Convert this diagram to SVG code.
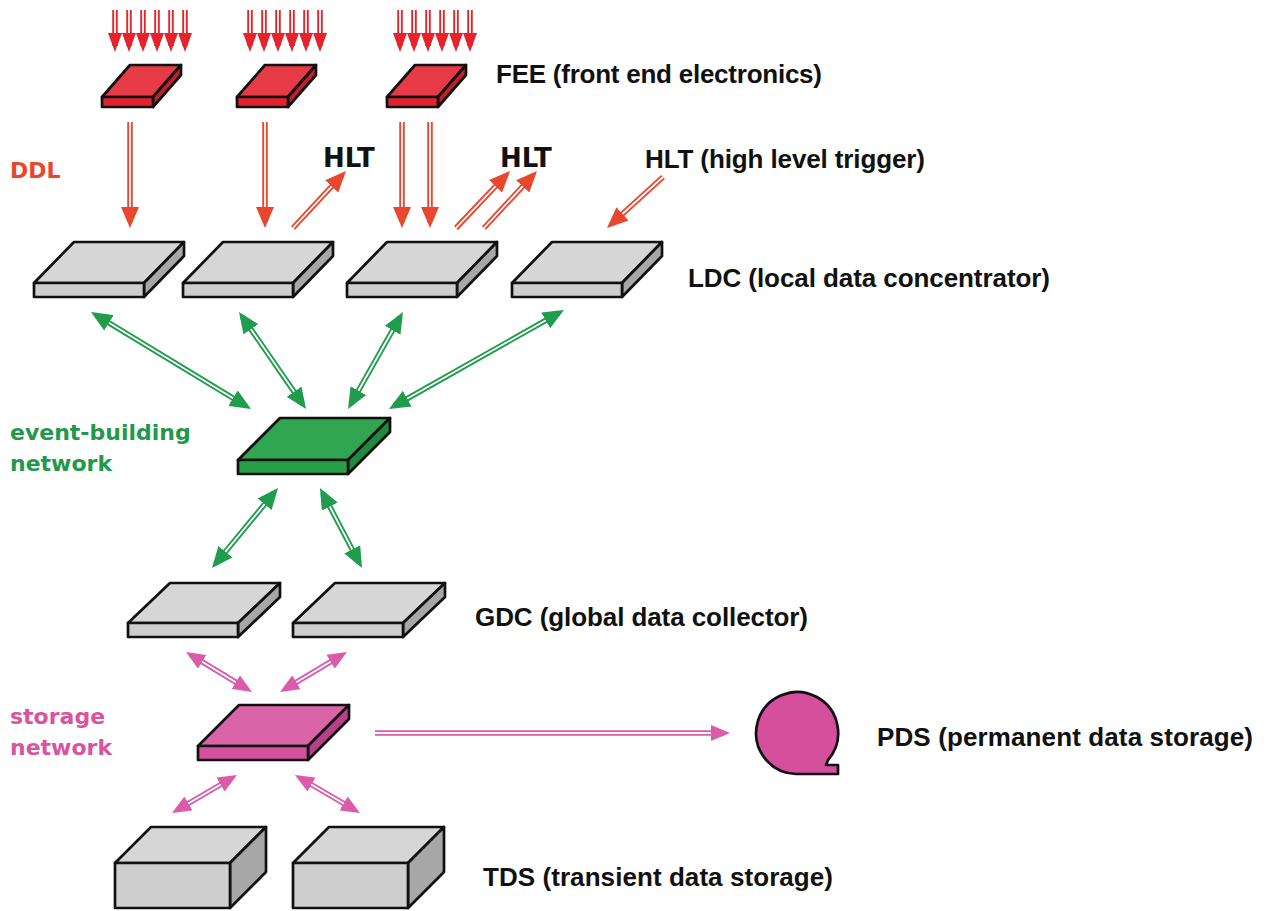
<svg xmlns="http://www.w3.org/2000/svg" width="1277" height="911" viewBox="0 0 1277 911">
<style>
.lbl{font-family:"Liberation Sans",Arial,sans-serif;font-weight:bold;font-size:26px;fill:#111}
.hlt{font-family:"DejaVu Sans",Verdana,sans-serif;font-weight:bold;font-size:26px;fill:#111}
.side-lbl{font-family:"DejaVu Sans",Verdana,sans-serif;font-weight:bold;font-size:22px}
.box polygon,.box rect{stroke:#111;stroke-width:2.7;stroke-linejoin:round}
.gray .t{fill:#d6d6d6}.gray .f{fill:#cecece}.gray .s{fill:#a7a7a7}
.red .t{fill:#e63a46}.red .f{fill:#e2222d}.red .s{fill:#c41f2b}
.green .t{fill:#2fa64f}.green .f{fill:#27a047}.green .s{fill:#1d8a3c}
.pink .t{fill:#d964a8}.pink .f{fill:#d2509e}.pink .s{fill:#b9408b}
.o{fill:none;stroke-width:5.5}
.i{fill:none;stroke:#fff;stroke-width:1.8}
.or{stroke:#e5232a}.orr{stroke:#e9462d}.og{stroke:#1f9c4c}.op{stroke:#dc5aaa}
</style>
<defs>
<marker id="hRs" markerUnits="userSpaceOnUse" markerWidth="19" markerHeight="14" refX="13" refY="7" orient="auto"><path d="M0,0 L19,7 L0,14 Z" fill="#e5232a"/></marker>
<marker id="hR" markerUnits="userSpaceOnUse" markerWidth="21" markerHeight="18" refX="15" refY="9" orient="auto"><path d="M0,0 L21,9 L0,18 Z" fill="#e9462d"/></marker>
<marker id="hG" markerUnits="userSpaceOnUse" markerWidth="21" markerHeight="18" refX="15" refY="9" orient="auto-start-reverse"><path d="M0,0 L21,9 L0,18 Z" fill="#1f9c4c"/></marker>
<marker id="hP" markerUnits="userSpaceOnUse" markerWidth="19" markerHeight="16" refX="13" refY="8" orient="auto-start-reverse"><path d="M0,0 L19,8 L0,16 Z" fill="#dc5aaa"/></marker>
</defs>

<g id="connectors">
  <g id="fee-inputs">
    <g class="o or" stroke-width="5">
      <path d="M115,10V46M129,10V46M143,10V46M157,10V46M171,10V46M185,10V46"/>
      <path d="M250,10V46M264,10V46M278,10V46M292,10V46M306,10V46M320,10V46"/>
      <path d="M400,10V46M414,10V46M428,10V46M442,10V46M456,10V46M470,10V46"/>
    </g>
    <g class="i" stroke-width="1.5">
      <path marker-end="url(#hRs)" d="M115,10V46"/><path marker-end="url(#hRs)" d="M129,10V46"/><path marker-end="url(#hRs)" d="M143,10V46"/><path marker-end="url(#hRs)" d="M157,10V46"/><path marker-end="url(#hRs)" d="M171,10V46"/><path marker-end="url(#hRs)" d="M185,10V46"/>
      <path marker-end="url(#hRs)" d="M250,10V46"/><path marker-end="url(#hRs)" d="M264,10V46"/><path marker-end="url(#hRs)" d="M278,10V46"/><path marker-end="url(#hRs)" d="M292,10V46"/><path marker-end="url(#hRs)" d="M306,10V46"/><path marker-end="url(#hRs)" d="M320,10V46"/>
      <path marker-end="url(#hRs)" d="M400,10V46"/><path marker-end="url(#hRs)" d="M414,10V46"/><path marker-end="url(#hRs)" d="M428,10V46"/><path marker-end="url(#hRs)" d="M442,10V46"/><path marker-end="url(#hRs)" d="M456,10V46"/><path marker-end="url(#hRs)" d="M470,10V46"/>
    </g>
  </g>
  <g id="ddl-hlt">
    <g class="o orr">
      <path d="M130,122V222"/><path d="M265,122V222"/><path d="M402,122V222"/><path d="M430,122V222"/>
      <path d="M293,228L341.9,175.4"/><path d="M456,228L505.9,175.4"/><path d="M484,228L532.9,175.4"/>
      <path d="M663,177L611.4,224"/>
    </g>
    <g class="i">
      <path marker-end="url(#hR)" d="M130,122V222"/><path marker-end="url(#hR)" d="M265,122V222"/><path marker-end="url(#hR)" d="M402,122V222"/><path marker-end="url(#hR)" d="M430,122V222"/>
      <path marker-end="url(#hR)" d="M293,228L341.9,175.4"/><path marker-end="url(#hR)" d="M456,228L505.9,175.4"/><path marker-end="url(#hR)" d="M484,228L532.9,175.4"/>
      <path marker-end="url(#hR)" d="M663,177L611.4,224"/>
    </g>
  </g>
  <g id="ebn-links">
    <g class="o og">
      <path d="M96.1,315.1L245.9,405.9"/><path d="M242.4,316.9L302.6,404.1"/><path d="M400,317.2L351,403.8"/><path d="M558.8,313L394.2,406"/>
      <path d="M274.2,492.6L215.8,563.4"/><path d="M322.8,493.3L359.2,562.7"/>
    </g>
    <g class="i">
      <path marker-start="url(#hG)" marker-end="url(#hG)" d="M96.1,315.1L245.9,405.9"/>
      <path marker-start="url(#hG)" marker-end="url(#hG)" d="M242.4,316.9L302.6,404.1"/>
      <path marker-start="url(#hG)" marker-end="url(#hG)" d="M400,317.2L351,403.8"/>
      <path marker-start="url(#hG)" marker-end="url(#hG)" d="M558.8,313L394.2,406"/>
      <path marker-start="url(#hG)" marker-end="url(#hG)" d="M274.2,492.6L215.8,563.4"/>
      <path marker-start="url(#hG)" marker-end="url(#hG)" d="M322.8,493.3L359.2,562.7"/>
    </g>
  </g>
  <g id="sn-links">
    <g class="o op">
      <path d="M191.1,655.1L246.9,688.9"/><path d="M341.8,655.1L285.2,688.9"/>
      <path d="M375,733H724"/>
      <path d="M231.8,778L177.2,810"/><path d="M300.2,778L354.8,810"/>
    </g>
    <g class="i">
      <path marker-start="url(#hP)" marker-end="url(#hP)" d="M191.1,655.1L246.9,688.9"/>
      <path marker-start="url(#hP)" marker-end="url(#hP)" d="M341.8,655.1L285.2,688.9"/>
      <path marker-end="url(#hP)" d="M375,733H724"/>
      <path marker-start="url(#hP)" marker-end="url(#hP)" d="M231.8,778L177.2,810"/>
      <path marker-start="url(#hP)" marker-end="url(#hP)" d="M300.2,778L354.8,810"/>
    </g>
  </g>
</g>

<g id="fee1" class="box red" transform="translate(102,97)"><polygon class="t" points="0,0 28,-32 79,-32 51,0"/><polygon class="s" points="51,0 79,-32 79,-22 51,10"/><rect class="f" x="0" y="0" width="51" height="10"/></g>
<g id="fee2" class="box red" transform="translate(237,97)"><polygon class="t" points="0,0 28,-32 79,-32 51,0"/><polygon class="s" points="51,0 79,-32 79,-22 51,10"/><rect class="f" x="0" y="0" width="51" height="10"/></g>
<g id="fee3" class="box red" transform="translate(387,97)"><polygon class="t" points="0,0 28,-32 79,-32 51,0"/><polygon class="s" points="51,0 79,-32 79,-22 51,10"/><rect class="f" x="0" y="0" width="51" height="10"/></g>

<g id="ldc1" class="box gray" transform="translate(34,283)"><polygon class="t" points="0,0 40,-41 150,-41 110,0"/><polygon class="s" points="110,0 150,-41 150,-27 110,14"/><rect class="f" x="0" y="0" width="110" height="14"/></g>
<g id="ldc2" class="box gray" transform="translate(183,283)"><polygon class="t" points="0,0 40,-41 150,-41 110,0"/><polygon class="s" points="110,0 150,-41 150,-27 110,14"/><rect class="f" x="0" y="0" width="110" height="14"/></g>
<g id="ldc3" class="box gray" transform="translate(347,283)"><polygon class="t" points="0,0 40,-41 150,-41 110,0"/><polygon class="s" points="110,0 150,-41 150,-27 110,14"/><rect class="f" x="0" y="0" width="110" height="14"/></g>
<g id="ldc4" class="box gray" transform="translate(512,283)"><polygon class="t" points="0,0 40,-41 150,-41 110,0"/><polygon class="s" points="110,0 150,-41 150,-27 110,14"/><rect class="f" x="0" y="0" width="110" height="14"/></g>

<g id="ebn" class="box green" transform="translate(238,460)"><polygon class="t" points="0,0 42,-42 152,-42 110,0"/><polygon class="s" points="110,0 152,-42 152,-28 110,14"/><rect class="f" x="0" y="0" width="110" height="14"/></g>

<g id="gdc1" class="box gray" transform="translate(128,623)"><polygon class="t" points="0,0 42,-40 152,-40 110,0"/><polygon class="s" points="110,0 152,-40 152,-26 110,14"/><rect class="f" x="0" y="0" width="110" height="14"/></g>
<g id="gdc2" class="box gray" transform="translate(293,623)"><polygon class="t" points="0,0 42,-40 152,-40 110,0"/><polygon class="s" points="110,0 152,-40 152,-26 110,14"/><rect class="f" x="0" y="0" width="110" height="14"/></g>

<g id="sn" class="box pink" transform="translate(198,746)"><polygon class="t" points="0,0 41,-41 151,-41 110,0"/><polygon class="s" points="110,0 151,-41 151,-27 110,14"/><rect class="f" x="0" y="0" width="110" height="14"/></g>

<g id="pds"><path d="M796,774 A41,41 0 1 1 828,760 L826,765 L838,765 L838,774 Z" fill="#d54f9d" stroke="#111" stroke-width="2.7" stroke-linejoin="round"/></g>

<g id="tds1" class="box gray" transform="translate(115,863)"><polygon class="t" points="0,0 36,-36 151,-36 115,0"/><polygon class="s" points="115,0 151,-36 151,9 115,45"/><rect class="f" x="0" y="0" width="115" height="45"/></g>
<g id="tds2" class="box gray" transform="translate(293,863)"><polygon class="t" points="0,0 36,-36 151,-36 115,0"/><polygon class="s" points="115,0 151,-36 151,9 115,45"/><rect class="f" x="0" y="0" width="115" height="45"/></g>

<g id="labels">
  <text class="lbl" x="496" y="83" textLength="326">FEE (front end electronics)</text>
  <text class="lbl" x="645" y="168" textLength="280">HLT (high level trigger)</text>
  <text class="lbl" x="688" y="287" textLength="362">LDC (local data concentrator)</text>
  <text class="lbl" x="475" y="626" textLength="333">GDC (global data collector)</text>
  <text class="lbl" x="877" y="746" textLength="376">PDS (permanent data storage)</text>
  <text class="lbl" x="483" y="886" textLength="350">TDS (transient data storage)</text>
  <text class="hlt" x="323" y="167">HLT</text>
  <text class="hlt" x="500" y="167">HLT</text>
  <text class="side-lbl" x="10" y="178" fill="#e9462d" font-size="21">DDL</text>
  <text class="side-lbl" x="10" y="440" fill="#22994a">event-building</text>
  <text class="side-lbl" x="10" y="471" fill="#22994a">network</text>
  <text class="side-lbl" x="10" y="724" fill="#d9539f">storage</text>
  <text class="side-lbl" x="10" y="755" fill="#d9539f">network</text>
</g>
</svg>
